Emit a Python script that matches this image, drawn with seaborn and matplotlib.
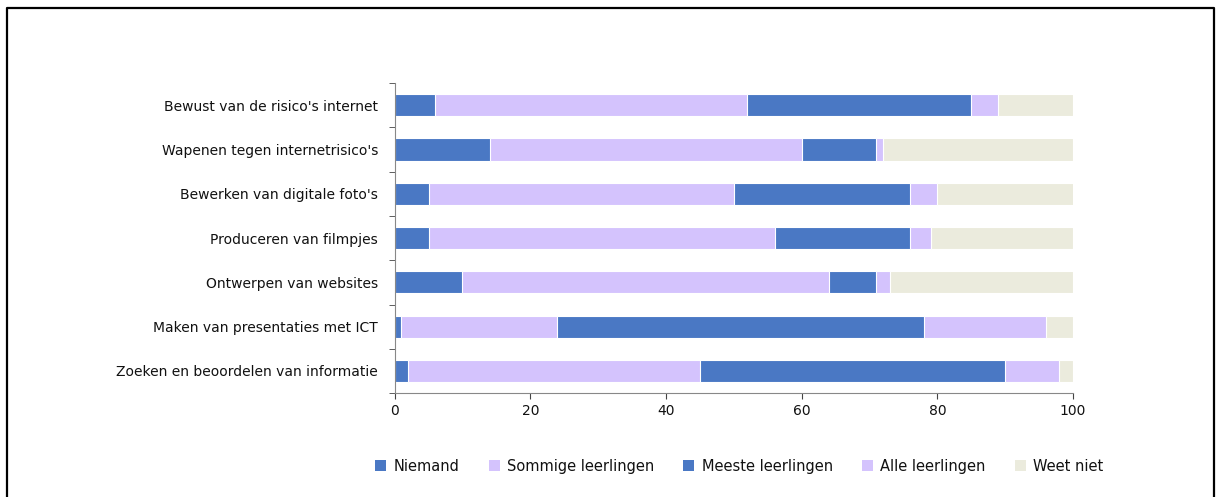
import numpy as np
import pandas as pd
import matplotlib
matplotlib.use("Agg")
import matplotlib.pyplot as plt
from matplotlib.patches import Patch
from matplotlib.lines import Line2D
import seaborn as sns

# data (percentages)
categories = ["Bewust van de risico's internet",
              "Wapenen tegen internetrisico's",
              "Bewerken van digitale foto's",
              "Produceren van filmpjes",
              "Ontwerpen van websites",
              "Maken van presentaties met ICT",
              "Zoeken en beoordelen van informatie"]
series_names = ["Niemand", "Sommige leerlingen", "Meeste leerlingen", "Alle leerlingen", "Weet niet"]
niemand = [6, 14, 5, 5, 10, 1, 2]
sommige = [46, 46, 45, 51, 54, 23, 43]
meeste = [33, 11, 26, 20, 7, 54, 45]
alle = [4, 1, 4, 3, 2, 18, 8]
weet_niet = [11, 28, 20.5, 21, 27, 4, 2]
x_ticks = [0, 20, 40, 60, 80, 100]

blue = "#4A78C4"
lilac = "#D4C3FD"
beige = "#EBEBDD"
colors = [blue, lilac, blue, lilac, beige]

df = pd.DataFrame({"cat": categories, "Niemand": niemand, "Sommige leerlingen": sommige,
                   "Meeste leerlingen": meeste, "Alle leerlingen": alle, "Weet niet": weet_niet})
cum = df[series_names].cumsum(axis=1)

sns.set_style("white")
plt.rcParams['font.family'] = ['DejaVu Sans']

fig = plt.figure(figsize=(12.18, 4.97), dpi=100)
ax = fig.add_axes([0.324, 0.209, 0.557, 0.624])

# stacked bars: draw cumulative totals from the last series back to the first
for name, col in reversed(list(zip(series_names, colors))):
    sns.barplot(x=cum[name], y=df["cat"], orient="h", color=col, width=0.5, saturation=1,
                edgecolor="white", linewidth=0.8, ax=ax)

ax.set_xlim(0, 100)
ax.set_ylim(6.5, -0.5)
ax.set_xticks(x_ticks)
ax.set_xlabel("")
ax.set_ylabel("")
ax.tick_params(axis="x", labelsize=10, colors="#111111", length=4, direction="out", bottom=True, pad=4)
ax.tick_params(axis="y", labelsize=10, colors="#111111", length=0, pad=12)
ax.set_yticks(np.arange(-0.5, 7, 1), minor=True)
ax.tick_params(axis="y", which="minor", length=4, left=True, direction="out", color="#444444")
ax.tick_params(axis="x", color="#444444")

for s in ["top", "right"]:
    ax.spines[s].set_visible(False)
ax.spines["left"].set_color("#888888")
ax.spines["bottom"].set_color("#888888")

handles = [Patch(facecolor=c, edgecolor="none") for c in colors]
fig.legend(handles, series_names, loc="center", bbox_to_anchor=(0.607, 0.062), ncol=5,
           frameon=False, fontsize=10.5, handlelength=0.75, handleheight=0.75,
           handletextpad=0.5, columnspacing=2.0, labelcolor="#111111")

# outer frame (open at the bottom)
fx0, fx1, fy = 7 / 1218, 1214 / 1218, 1 - 8 / 497
fig.add_artist(Line2D([fx0, fx0, fx1, fx1], [-0.05, fy, fy, -0.05], color="black", lw=1.6,
                      transform=fig.transFigure))

fig.savefig("out.png", dpi=100)
